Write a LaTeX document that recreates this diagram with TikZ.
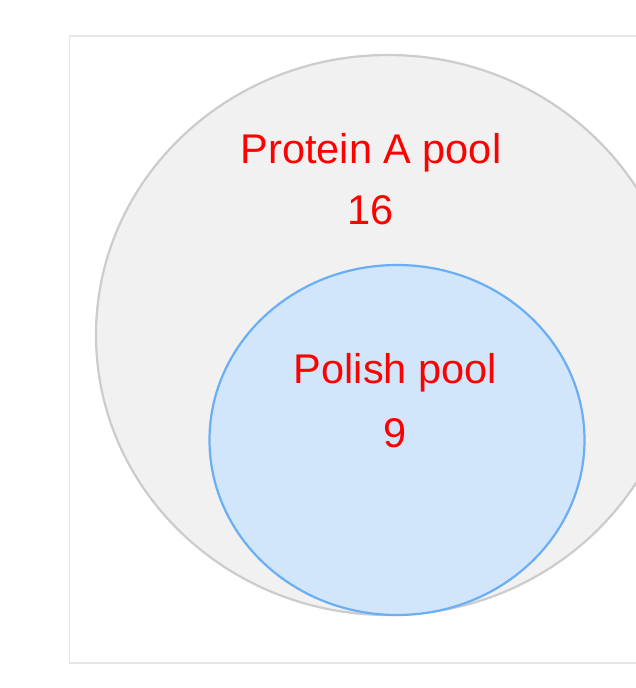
\documentclass[tikz,border=0pt]{standalone}
\usepackage{fontspec}
\setmainfont{Liberation Sans}
\usetikzlibrary{shapes.geometric}
\definecolor{outerfill}{HTML}{F1F1F1}
\definecolor{outerline}{HTML}{CCCCCC}
\definecolor{innerfill}{HTML}{D2E6FB}
\definecolor{innerline}{HTML}{6AAEF5}
\definecolor{frameline}{HTML}{E6E6E6}
\definecolor{labelred}{HTML}{FF0000}
\tikzset{
  poolset/.style={ellipse, inner sep=0pt, line width=2.2pt},
  poollabel/.style={text=labelred, font=\fontsize{41.5}{48}\selectfont, anchor=base, inner sep=0pt}
}
\begin{document}
\begin{tikzpicture}[x=1pt, y=-1pt]
  \useasboundingbox (0,0) rectangle (636,688);
  \clip (0,0) rectangle (636,688);
  \fill[white] (0,0) rectangle (636,688);
  % plot frame
  \draw[frameline, line width=1.5pt] (69.5,36) rectangle (720,663);
  % sets
  \node[poolset, draw=outerline, fill=outerfill, minimum width=584pt, minimum height=560pt] (proteinA) at (388,335) {};
  \node[poolset, draw=innerline, fill=innerfill, minimum width=375pt, minimum height=350pt] (polish) at (397,440) {};
  % labels
  \node[poollabel] (labA) at (371,163) {Protein A pool};
  \node[poollabel] (numA) at (371,224) {16};
  \node[poollabel] (labP) at (395.5,383) {Polish pool};
  \node[poollabel] (numP) at (395,447.5) {9};
\end{tikzpicture}
\end{document}
